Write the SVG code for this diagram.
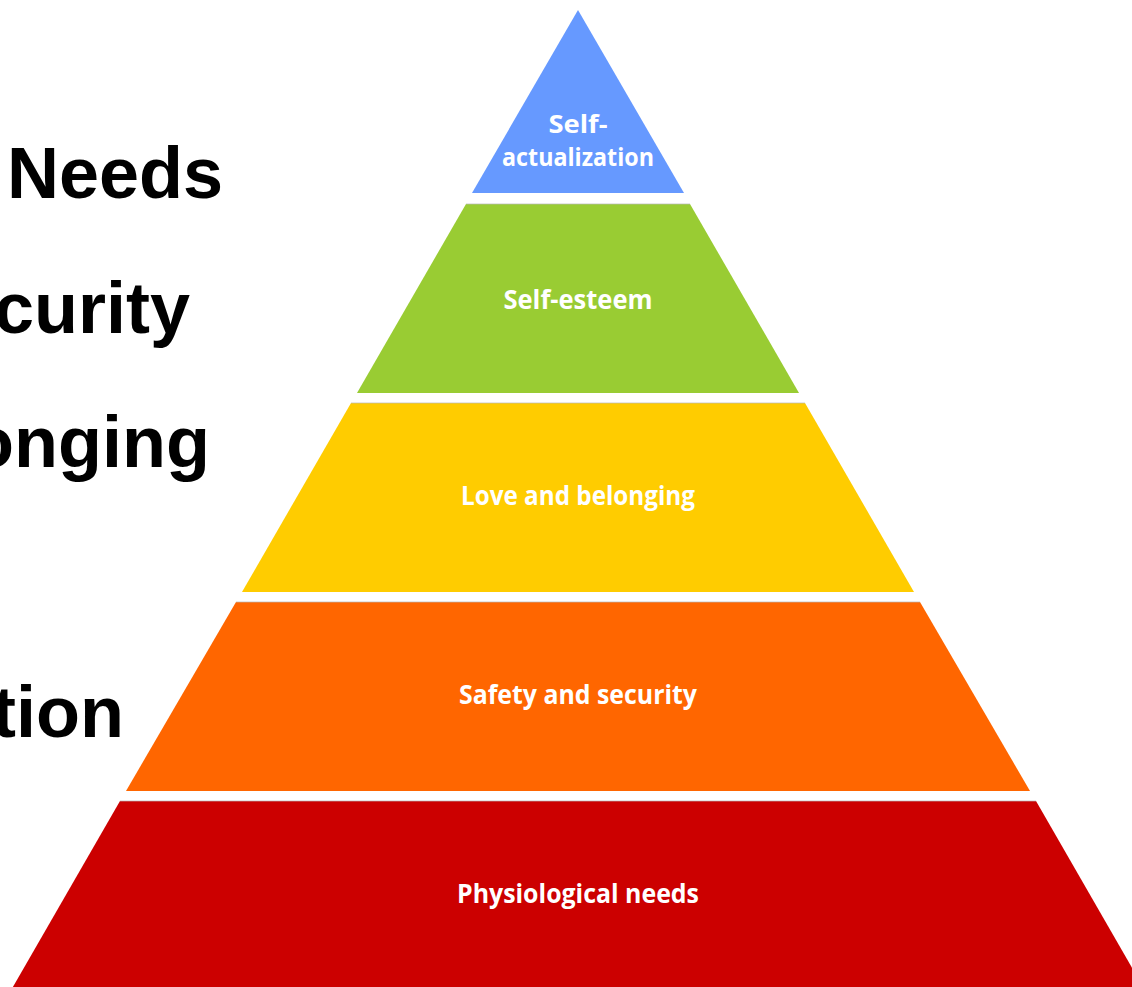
<svg xmlns="http://www.w3.org/2000/svg" width="1132" height="987" viewBox="0 0 1132 987">
<style>
.side{font-family:"Liberation Sans",Arial,sans-serif;font-weight:bold;font-size:72px;fill:#000;text-anchor:end}
.lbl{font-family:"Open Sans","Noto Sans",sans-serif;font-weight:700;font-size:27px;fill:#fff;text-anchor:middle}
.top{font-size:25px}
.edge{stroke:#b8b8b8;stroke-width:1;opacity:0.7}
</style>
<rect width="1132" height="987" fill="#fff"/>
<g id="side-texts">
<text class="side" x="223" y="198">Needs</text>
<text class="side" x="190" y="333">curity</text>
<text class="side" x="210" y="467">onging</text>
<text class="side" x="124" y="737">tion</text>
</g>
<g id="connectors"/>
<g id="level-self-actualization">
<polygon points="578,10 684,193 472,193" fill="#6699FF"/>
<text class="lbl top" x="578" y="133"><tspan x="578" y="133" textLength="59" lengthAdjust="spacingAndGlyphs">Self-</tspan><tspan x="578" y="166" textLength="152" lengthAdjust="spacingAndGlyphs">actualization</tspan></text>
</g>
<g id="level-self-esteem">
<polygon points="466,204 690,204 799,393 357,393" fill="#99CC33"/>
<line class="edge" x1="466" y1="204" x2="690" y2="204"/>
<text class="lbl" x="578" y="309" textLength="149" lengthAdjust="spacingAndGlyphs">Self-esteem</text>
</g>
<g id="level-love">
<polygon points="351,403 805,403 914,592 242,592" fill="#FFCC00"/>
<line class="edge" x1="351" y1="403" x2="805" y2="403"/>
<text class="lbl" x="578" y="505" textLength="234" lengthAdjust="spacingAndGlyphs">Love and belonging</text>
</g>
<g id="level-safety">
<polygon points="236,602 920,602 1030,791 126,791" fill="#FF6600"/>
<line class="edge" x1="236" y1="602" x2="920" y2="602"/>
<text class="lbl" x="578" y="704" textLength="238" lengthAdjust="spacingAndGlyphs">Safety and security</text>
</g>
<g id="level-physiological">
<polygon points="120,801 1036,801 1146,992 10,992" fill="#CC0000"/>
<line class="edge" x1="120" y1="801" x2="1036" y2="801"/>
<text class="lbl" x="578" y="903" textLength="242" lengthAdjust="spacingAndGlyphs">Physiological needs</text>
</g>
</svg>
